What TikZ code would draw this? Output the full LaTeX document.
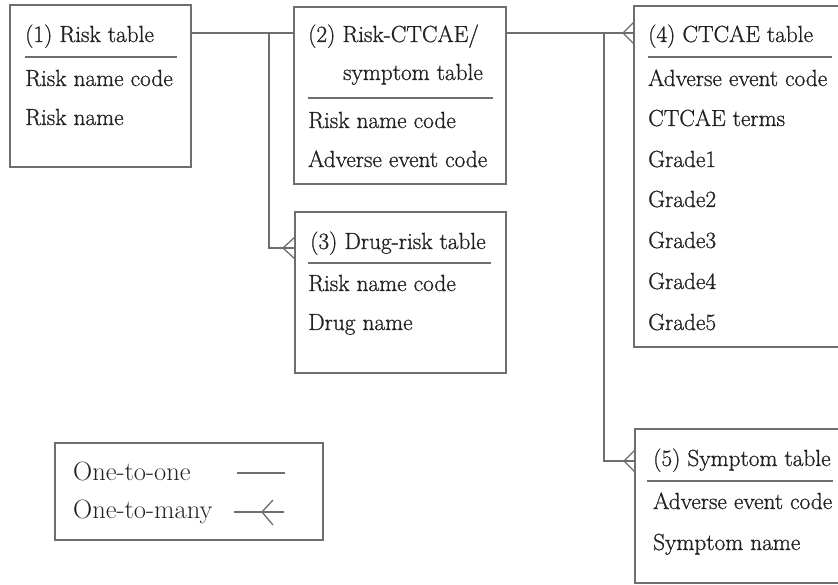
\documentclass[tikz,border=0pt]{standalone}
\usepackage{fontspec}
\newfontfamily\tabfont[BoldFont=Latin Modern Roman,BoldFeatures={FakeBold=0.9}]{Latin Modern Roman}
\begin{document}
\begin{tikzpicture}[x=1pt,y=-1pt,
  tbl/.style={draw=lgray,line width=1.6pt,fill=white,anchor=north west,inner sep=0pt,outer sep=0pt},
  txt/.style={anchor=base west,inner sep=0pt,text=tcol,font=\tabfont\bfseries\fontsize{23.3}{27}\selectfont},
  lgtxt/.style={anchor=base west,inner sep=0pt,text=tcol,font=\tabfont\fontsize{26.5}{30}\selectfont},
  sep/.style={draw=lgray,line width=1.4pt},
  conn/.style={draw=lgray,line width=1.3pt}]
\definecolor{lgray}{HTML}{6E6E6E}
\definecolor{tcol}{HTML}{222222}
\useasboundingbox (0,0) rectangle (838,585);
\begin{scope}
\clip (0,0) rectangle (838,585);
% boxes
\node[tbl,minimum width=181pt,minimum height=162pt] (t1) at (10,5) {};
\node[tbl,minimum width=212pt,minimum height=177pt] (t2) at (294,7) {};
\node[tbl,minimum width=211pt,minimum height=161pt] (t3) at (295,212) {};
\node[tbl,minimum width=220pt,minimum height=341pt] (t4) at (634,6) {};
\node[tbl,minimum width=220pt,minimum height=154pt] (t5) at (635,429) {};
\node[tbl,minimum width=268pt,minimum height=97pt] (lg) at (55,443) {};
% table 1
\node[txt] (t1a) at (25,42) {(1) Risk table};
\draw[sep] (25,57) -- (177,57);
\node[txt] (t1b) at (25,86) {Risk name code};
\node[txt] (t1c) at (25,125) {Risk name};
% table 2
\node[txt] (t2a) at (308,42) {(2) Risk-CTCAE/};
\node[txt] (t2b) at (343,80) {symptom table};
\draw[sep] (308,98) -- (493,98);
\node[txt] (t2c) at (308,128) {Risk name code};
\node[txt] (t2d) at (308,167) {Adverse event code};
% table 3
\node[txt] (t3a) at (310,249) {(3) Drug-risk table};
\draw[sep] (308,263) -- (491,263);
\node[txt] (t3b) at (308,291) {Risk name code};
\node[txt] (t3c) at (308,330) {Drug name};
% table 4
\node[txt] (t4a) at (648,42) {(4) CTCAE table};
\draw[sep] (648,57) -- (832,57);
\node[txt] (t4b) at (648,86) {Adverse event code};
\node[txt] (t4c) at (648,126) {CTCAE terms};
\node[txt] (t4d) at (648,167) {Grade1};
\node[txt] (t4e) at (648,207) {Grade2};
\node[txt] (t4f) at (648,248) {Grade3};
\node[txt] (t4g) at (648,289) {Grade4};
\node[txt] (t4h) at (648,330) {Grade5};
% table 5
\node[txt] (t5a) at (653,466) {(5) Symptom table};
\draw[sep] (647,481) -- (833,481);
\node[txt] (t5b) at (653,509) {Adverse event code};
\node[txt] (t5c) at (653,550) {Symptom name};
% legend
\node[lgtxt] (l1) at (73,480) {One-to-one};
\node[lgtxt] (l2) at (73,518) {One-to-many};
\coordinate (l1s) at (237,473);
\coordinate (l1e) at (285,473);
\draw[conn] (l1s) -- (l1e);
\coordinate (l2s) at (234,512);
\coordinate (l2e) at (284,512);
\coordinate (l2a) at (262,512);
\draw[conn] (l2s) -- (l2e);
\draw[conn] (l2a) -- (273,500) (l2a) -- (273,525);
% connectors
\coordinate (c1) at ([yshift=-28pt]t1.north east);
\draw[conn] (c1) -- (c1 -| t2.west);
\coordinate (j1) at (269,33);
\coordinate (j1b) at (269,248);
\coordinate (f3) at (t3.west |- j1b);
\coordinate (a3) at (283,248);
\draw[conn] (j1) -- (j1b) -- (f3);
\draw[conn] (a3) -- ([yshift=11pt]f3) (a3) -- ([yshift=-11pt]f3);
\coordinate (c2) at (t2.east |- c1);
\coordinate (f4) at (t4.west |- c1);
\coordinate (a4) at (623,33);
\draw[conn] (c2) -- (f4);
\draw[conn] (a4) -- ([yshift=11pt]f4) (a4) -- ([yshift=-11pt]f4);
\coordinate (j2) at (604,33);
\coordinate (j2b) at (604,461);
\coordinate (f5) at (t5.west |- j2b);
\coordinate (a5) at (624,461);
\draw[conn] (j2) -- (j2b) -- (f5);
\draw[conn] (a5) -- ([yshift=11pt]f5) (a5) -- ([yshift=-11pt]f5);
\end{scope}
\end{tikzpicture}
\end{document}
